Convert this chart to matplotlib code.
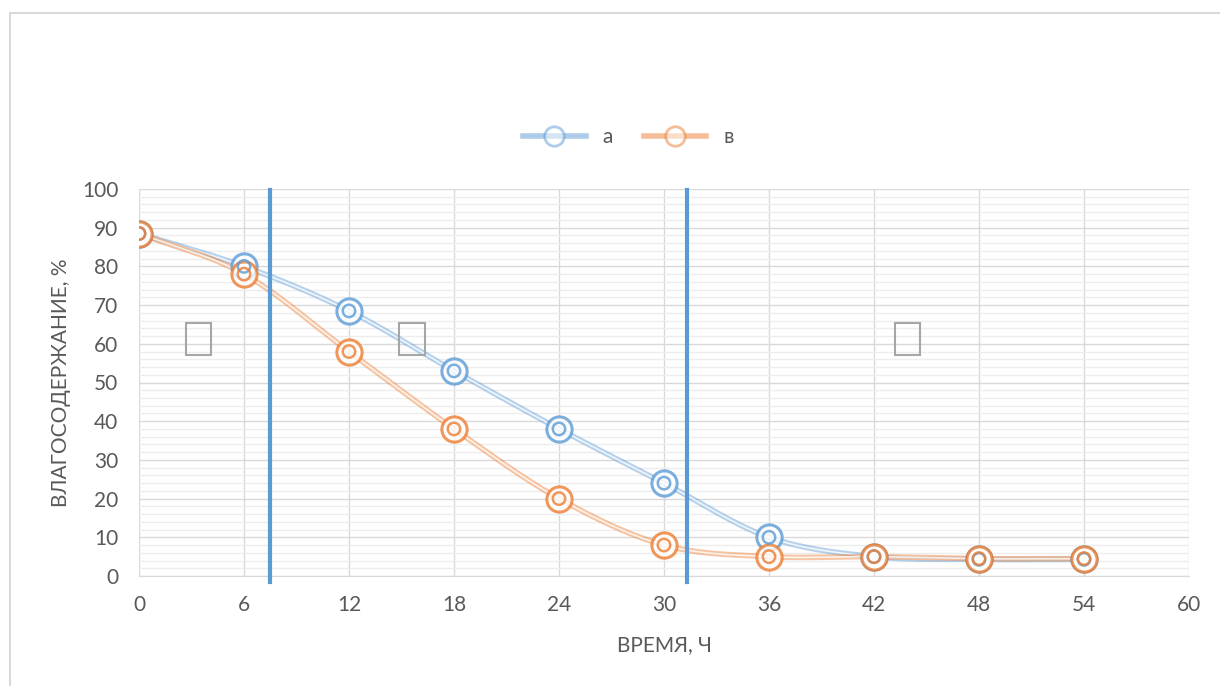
import numpy as np
import matplotlib
matplotlib.use('Agg')
from matplotlib import pyplot as plt
from matplotlib.patches import Rectangle
from matplotlib.lines import Line2D

# data
hours = [0, 6, 12, 18, 24, 30, 36, 42, 48, 54]
moisture_a = [88.5, 80, 68.5, 53, 38, 24, 10, 5, 4.3, 4.3]
moisture_v = [88.5, 78, 58, 38, 20, 8, 5, 5, 4.5, 4.5]
series_names = ['а', 'в']
stage_bounds = [7.5, 31.3]
stage_marks = [3.4, 15.6, 43.9]   # empty boxes (missing-glyph labels in the original)
x_ticks = list(range(0, 61, 6))
y_ticks = list(range(0, 101, 10))

blue = '#5B9BD5'
orange = '#ED7D31'
grey_txt = '#595959'

plt.rcParams['font.family'] = ['Lato', 'DejaVu Sans']


def smooth(x, y, n=30):
    # catmull-rom through the points, like excel's smoothed line
    x = np.asarray(x, float)
    y = np.asarray(y, float)
    px = np.concatenate([[2 * x[0] - x[1]], x, [2 * x[-1] - x[-2]]])
    py = np.concatenate([[2 * y[0] - y[1]], y, [2 * y[-1] - y[-2]]])
    xs, ys = [], []
    t = np.linspace(0, 1, n)
    for i in range(1, len(px) - 2):
        for p, out in ((px, xs), (py, ys)):
            p0, p1, p2, p3 = p[i - 1], p[i], p[i + 1], p[i + 2]
            out.extend(0.5 * (2 * p1 + (-p0 + p2) * t
                              + (2 * p0 - 5 * p1 + 4 * p2 - p3) * t ** 2
                              + (-p0 + 3 * p1 - 3 * p2 + p3) * t ** 3))
    return np.array(xs), np.array(ys)


fig = plt.figure(figsize=(12.2, 6.86), dpi=100)
fig.patches.append(Rectangle((10 / 1220, -0.01), 1.02, 1 - 13 / 686 + 0.01,
                             transform=fig.transFigure, fill=False,
                             edgecolor='#D9D9D9', linewidth=1.5))

ax = fig.add_axes([139 / 1220, 1 - 576 / 686, 1050 / 1220, 387 / 686])
ax.set_xlim(0, 60)
ax.set_ylim(0, 100)
ax.set_xticks(x_ticks)
ax.set_yticks(y_ticks)
ax.set_yticks(np.arange(0, 101, 2), minor=True)
ax.grid(True, which='major', color='#D9D9D9', linewidth=1)
ax.grid(True, which='minor', axis='y', color='#EDEDED', linewidth=1)
ax.set_axisbelow(True)
for s in ax.spines.values():
    s.set_visible(False)
ax.spines['bottom'].set_visible(True)
ax.spines['bottom'].set_color('#D9D9D9')
ax.tick_params(which='both', length=0, labelsize=15, labelcolor=grey_txt)
ax.tick_params(axis='y', pad=15)
ax.tick_params(axis='x', pad=14)

for xs_, ys_, col in ((hours, moisture_a, blue), (hours, moisture_v, orange)):
    sx, sy = smooth(xs_, ys_)
    ax.plot(sx, sy, color=col, lw=4, alpha=0.45, solid_capstyle='round', zorder=3)
    ax.plot(sx, sy, color='white', lw=1.2, alpha=0.8, zorder=3)

for xs_, ys_, col in ((hours, moisture_a, blue), (hours, moisture_v, orange)):
    ax.scatter(xs_, ys_, s=330, facecolor='white', edgecolor=col, linewidth=2.2,
               alpha=0.8, zorder=4)
    ax.scatter(xs_, ys_, s=80, facecolor='none', edgecolor=col, linewidth=1.8,
               alpha=0.8, zorder=5)

for xb in stage_bounds:
    ax.plot([xb, xb], [-1.6, 99.7], color=blue, lw=3, clip_on=False, zorder=6)

for xm in stage_marks:
    ax.add_patch(Rectangle((xm - 0.72, 57), 1.44, 8.3, fill=False,
                           edgecolor='#A6A6A6', linewidth=1.5, zorder=5))

ax.set_xlabel('ВРЕМЯ, Ч', fontsize=15, color=grey_txt, labelpad=14)
ax.set_ylabel('ВЛАГОСОДЕРЖАНИЕ, %', fontsize=15, color=grey_txt, labelpad=8)

handles = []
for col in (blue, orange):
    handles.append(Line2D([0], [0], color=col, lw=4, alpha=0.5, marker='o',
                          markersize=14, markerfacecolor='white',
                          markeredgecolor=col, markeredgewidth=2))
fig.legend(handles, series_names, loc='center', bbox_to_anchor=(0.515, 1 - 137 / 686),
           ncol=2, frameon=False, fontsize=15, labelcolor=grey_txt,
           handlelength=3, columnspacing=1.5)

fig.savefig('out.png', dpi=100)
